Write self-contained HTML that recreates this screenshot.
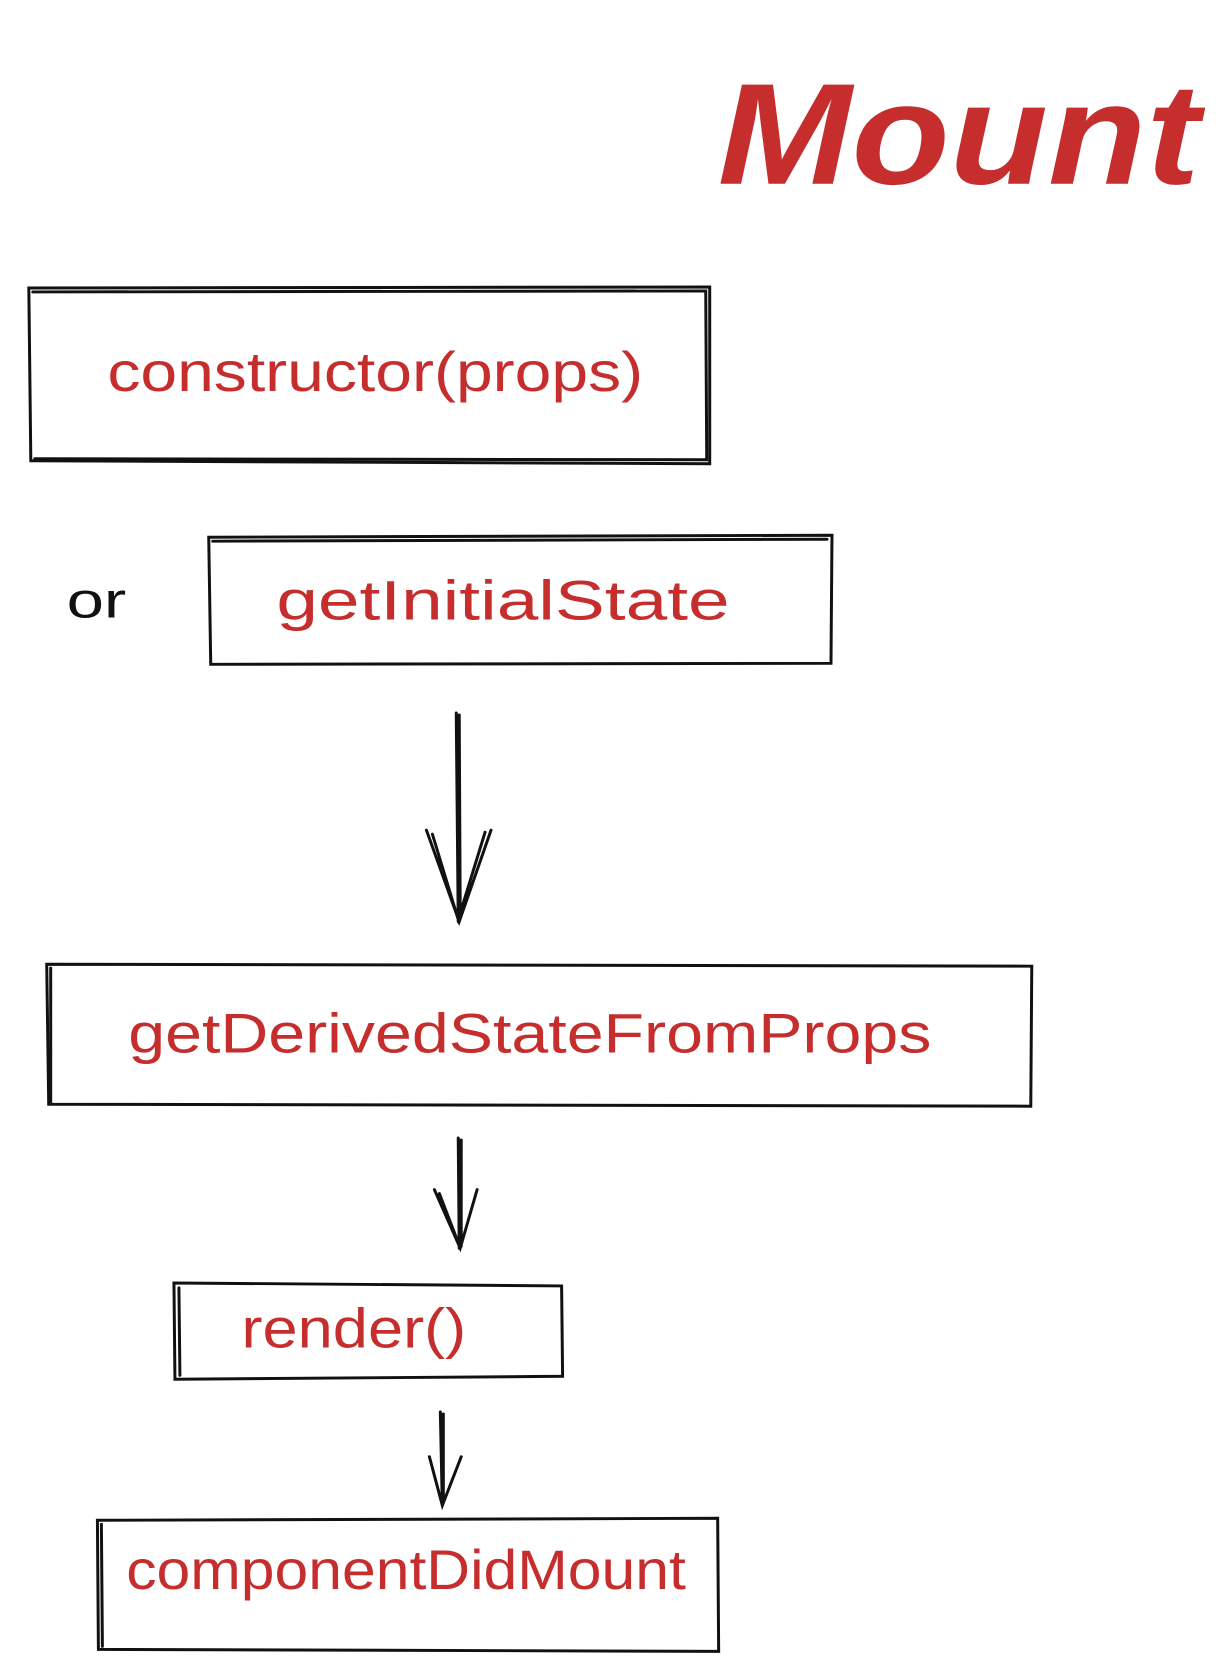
<!DOCTYPE html>
<html><head><meta charset="utf-8"><style>html,body{margin:0;padding:0;background:#fff}svg{display:block}</style></head>
<body>
<svg width="1230" height="1680" viewBox="0 0 1230 1680" xmlns="http://www.w3.org/2000/svg">
<g transform="scale(0.994,0.993)">
<g fill="none" stroke="#111" stroke-width="3" stroke-linecap="round">
<path d="M29 290 L714 289 L714 467 L31 464 Z"/><path d="M33 294 L710 293 L711 463 L35 462"/>
<path d="M210 541 L837 539 L836 668 L212 669 Z"/><path d="M214 545 L832 543"/>
<path d="M47 971 L1038 973 L1037 1114 L49 1112 Z"/><path d="M51 975 L51 1110"/>
<path d="M175 1292 L565 1295 L566 1386 L176 1389 Z"/><path d="M180 1297 L181 1385"/>
<path d="M98 1531 L722 1529 L723 1663 L99 1661 Z"/><path d="M102 1535 L103 1658"/>
<path d="M459 718 L461 928 M462 720 L463 925 M429 836 L462 928 L494 836 M435 840 L461 926 L488 838"/>
<path d="M461 1146 L462 1257 M464 1148 L464 1255 M437 1198 L463 1257 L480 1198 M442 1202 L462 1254"/>
<path d="M443 1422 L445 1516 M446 1424 L446 1512 M432 1467 L445 1516 L464 1467"/>
</g>
<g fill="#c62d2d" font-family="Liberation Sans, sans-serif">
<text x="722" y="185" font-size="145" font-weight="bold" font-style="italic" textLength="485" lengthAdjust="spacingAndGlyphs">Mount</text>
<text x="108" y="394" font-size="56" textLength="539" lengthAdjust="spacingAndGlyphs">constructor(props)</text>
<text x="278" y="624" font-size="56" textLength="456" lengthAdjust="spacingAndGlyphs">getInitialState</text>
<text x="129" y="1060" font-size="56" textLength="808" lengthAdjust="spacingAndGlyphs">getDerivedStateFromProps</text>
<text x="243" y="1357" font-size="56" textLength="226" lengthAdjust="spacingAndGlyphs">render()</text>
<text x="127" y="1600" font-size="56" textLength="563" lengthAdjust="spacingAndGlyphs">componentDidMount</text>
</g>
<text x="67" y="622" font-family="Liberation Sans, sans-serif" font-size="50" fill="#111" textLength="60" lengthAdjust="spacingAndGlyphs">or</text>
</g>
</svg>
</body></html>
